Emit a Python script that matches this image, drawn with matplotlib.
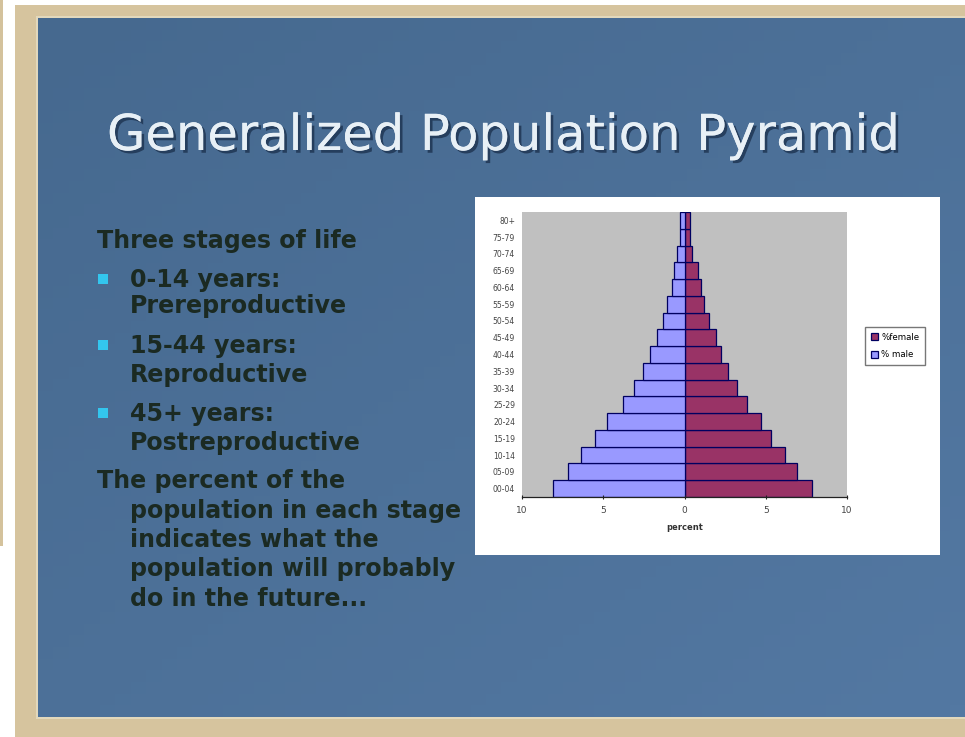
import matplotlib
matplotlib.use("Agg")
import matplotlib.pyplot as plt
import matplotlib.patheffects as pe
from matplotlib.patches import Rectangle
from matplotlib.colors import LinearSegmentedColormap
import numpy as np

W, H = 965, 737

# ---- data ----
age_groups = ["00-04", "05-09", "10-14", "15-19", "20-24", "25-29", "30-34", "35-39",
              "40-44", "45-49", "50-54", "55-59", "60-64", "65-69", "70-74", "75-79", "80+"]
pct_male = [8.1, 7.2, 6.35, 5.5, 4.75, 3.8, 3.1, 2.55, 2.15, 1.7, 1.3, 1.05, 0.75, 0.65, 0.45, 0.3, 0.25]
pct_female = [7.85, 6.9, 6.2, 5.35, 4.7, 3.85, 3.2, 2.65, 2.25, 1.95, 1.5, 1.2, 1.0, 0.85, 0.45, 0.35, 0.35]
x_ticks = [-10, -5, 0, 5, 10]
x_tick_labels = ["10", "5", "0", "5", "10"]

title = "Generalized Population Pyramid"
body_lines = [
    # (text, x, baseline y, bullet)
    ("Three stages of life", 97, 248, False),
    ("0-14 years:", 130, 287, True),
    ("Prereproductive", 130, 313, False),
    ("15-44 years:", 130, 353, True),
    ("Reproductive", 130, 382, False),
    ("45+ years:", 130, 421, True),
    ("Postreproductive", 130, 450, False),
    ("The percent of the", 97, 488, False),
    ("population in each stage", 130, 518, False),
    ("indicates what the", 130, 547, False),
    ("population will probably", 130, 576, False),
    ("do in the future...", 130, 606, False),
]


def box(x0, y0, x1, y1):
    return [x0 / W, 1 - y1 / H, (x1 - x0) / W, (y1 - y0) / H]


def rect(x0, y0, x1, y1, z=0, **kw):
    fig.patches.append(Rectangle((x0 / W, 1 - y1 / H), (x1 - x0) / W, (y1 - y0) / H,
                                 transform=fig.transFigure, figure=fig, zorder=z, **kw))


fig = plt.figure(figsize=(W / 100, H / 100), dpi=100)
fig.patch.set_facecolor("white")

# slide frame
rect(0, 0, 3, 546, facecolor="#d4c29c", lw=0)
rect(15, 5, W, H, facecolor="#d6c49e", lw=0)
rect(36, 16, W, 719, facecolor="#e2d8bc", lw=0)

# blue slide background with a soft gradient
bg = fig.add_axes(box(38, 18, W, 717), zorder=0.5)
gx = np.linspace(0, 1, 60)
gy = np.linspace(0, 1, 60)
grad = 0.5 * gx[None, :] + 0.5 * gy[:, None]
cmap = LinearSegmentedColormap.from_list("slide", ["#46698f", "#5378a2"])
bg.imshow(grad, cmap=cmap, aspect="auto", extent=[0, 1, 1, 0])
bg.set_axis_off()

# title
t = fig.text(504 / W, 1 - 150 / H, title, fontsize=40, color="#e8f0f6",
             ha="center", va="baseline", family="DejaVu Sans", zorder=3,
             path_effects=[pe.withSimplePatchShadow(offset=(2, -2), shadow_rgbFace="#1d3350", alpha=0.8),
                           pe.Normal()])
r = fig.canvas.get_renderer()
t.set_fontsize(40 * 792 / t.get_window_extent(r).width)

# body text
body = []
for s, x, y, bullet in body_lines:
    tt = fig.text(x / W, 1 - y / H, s, fontsize=18, color="#1b2a22", fontweight="bold",
                  family="DejaVu Sans", ha="left", va="baseline", zorder=3)
    body.append(tt)
    if bullet:
        rect(98, y - 13, 108, y - 3, z=3, facecolor="#33c6ee", lw=0)
ref = body[8].get_window_extent(r).width
for tt in body:
    tt.set_fontsize(18 * 333 / ref)

# chart card
rect(475, 197, 940, 555, z=1, facecolor="white", lw=0)

ax = fig.add_axes(box(522, 212, 847, 497), zorder=2)
ax.set_facecolor("#c0c0c0")
ypos = np.arange(len(age_groups))
ax.barh(ypos, pct_female, height=1.0, color="#993366", edgecolor="#000060", lw=0.9, label="%female")
ax.barh(ypos, [-v for v in pct_male], height=1.0, color="#9999ff", edgecolor="#000060", lw=0.9, label="% male")
ax.set_xlim(-10, 10)
ax.set_ylim(-0.5, len(age_groups) - 0.5)
ax.set_yticks(ypos)
ax.set_yticklabels(age_groups, fontsize=5.5, color="#444444")
ax.tick_params(axis="y", length=0, pad=5)
ax.set_xticks(x_ticks)
ax.set_xticklabels(x_tick_labels, fontsize=6.5, color="#444444")
ax.tick_params(axis="x", length=3, direction="inout", pad=5, color="#222222")
ax.set_xlabel("percent", fontsize=6, fontweight="bold", color="#333333", labelpad=6)
for side in ("top", "right", "left"):
    ax.spines[side].set_visible(False)
ax.spines["bottom"].set_color("#222222")
ax.spines["bottom"].set_linewidth(0.9)
ax.legend(loc="center left", bbox_to_anchor=(1.055, 0.53), fontsize=6.2, frameon=True,
          fancybox=False, edgecolor="#555555", handlelength=0.8, handleheight=0.8,
          handletextpad=0.4, borderpad=0.7, labelspacing=1.0, borderaxespad=0)

fig.savefig("out.png", dpi=100)
